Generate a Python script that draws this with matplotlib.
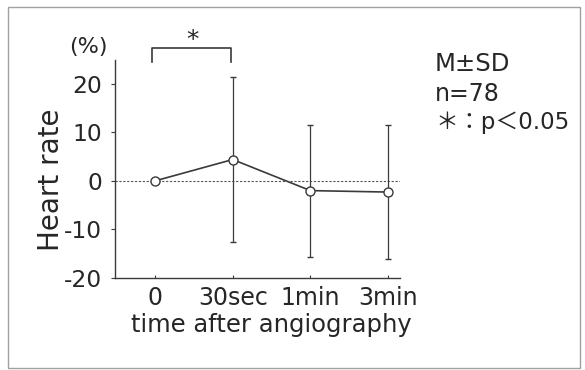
import matplotlib.pyplot as plt
from matplotlib.patches import Rectangle

# data (% change in heart rate, mean and SD)
times = ["0", "30sec", "1min", "3min"]
hr_mean = [0.0, 4.4, -2.0, -2.3]
hr_sd = [0.0, 17.0, 13.6, 13.8]
y_ticks = [-20, -10, 0, 10, 20]

plt.rcParams['font.family'] = ['DejaVu Sans', 'Noto Sans CJK JP']
ink = "#3a3a3a"
txt = "#262626"

fig = plt.figure(figsize=(5.85, 3.7), dpi=100)
ax = fig.add_axes([115 / 585, 1 - 278 / 370, 285 / 585, 218 / 370])

x = list(range(len(times)))
ax.axhline(0, color="#555555", lw=0.8, ls=(0, (2, 1.5)), zorder=1)
ax.errorbar(x, hr_mean, yerr=hr_sd, color=ink, lw=1.2, elinewidth=0.9,
            capsize=2, capthick=0.9, marker="o", ms=6.5, mfc="white",
            mec=ink, mew=1.0, zorder=3)

ax.set_xlim(-0.515, 3.153)
ax.set_ylim(-20, 24.9)
ax.set_yticks(y_ticks)
ax.set_yticklabels([str(v) for v in y_ticks])  # plain hyphen as in the scan
ax.set_xticks(x)
ax.set_xticklabels(times)
ax.tick_params(axis="y", direction="out", length=3, width=0.8, colors=ink,
               labelsize=16.8, labelcolor=txt, pad=6.5)
ax.tick_params(axis="x", direction="in", length=2, width=0.8, colors=ink,
               labelsize=17, labelcolor=txt, pad=6)
for s in ["top", "right"]:
    ax.spines[s].set_visible(False)
for s in ["left", "bottom"]:
    ax.spines[s].set_color(ink)
    ax.spines[s].set_linewidth(1.0)

fig.text(51 / 585, 1 - 180 / 370, "Heart rate", rotation=90, ha="center",
         va="center", fontsize=20, color=txt)
fig.text(271 / 585, 1 - 325 / 370, "time after angiography", ha="center",
         va="center", fontsize=17.5, color=txt)

# significance bracket between 0 and 30sec
ax.plot([-0.04, -0.04, 0.98, 0.98], [24.5, 27.4, 27.4, 24.5], color=ink,
        lw=1.2, clip_on=False)
ax.text(0.48, 26.6, "*", ha="center", va="bottom", fontsize=18, color=txt)

fig.text(88 / 585, 1 - 47 / 370, "(%)", ha="center", va="center", fontsize=16,
         color=txt)

fig.text(435 / 585, 1 - 64 / 370, "M±SD", ha="left", va="center", fontsize=17.5,
         color=txt)
fig.text(435 / 585, 1 - 94 / 370, "n=78", ha="left", va="center", fontsize=17,
         color=txt)
fig.text(435 / 585, 1 - 123 / 370, "＊：p＜0.05", ha="left", va="center",
         fontsize=16.5, color=txt)

# scanned page frame
fig.patches.append(Rectangle((8 / 585, 1 - 368 / 370), 572 / 585, 361 / 370,
                             transform=fig.transFigure, fill=False,
                             ec="#a0a0a0", lw=1.0))

fig.savefig("out.png", dpi=100)
